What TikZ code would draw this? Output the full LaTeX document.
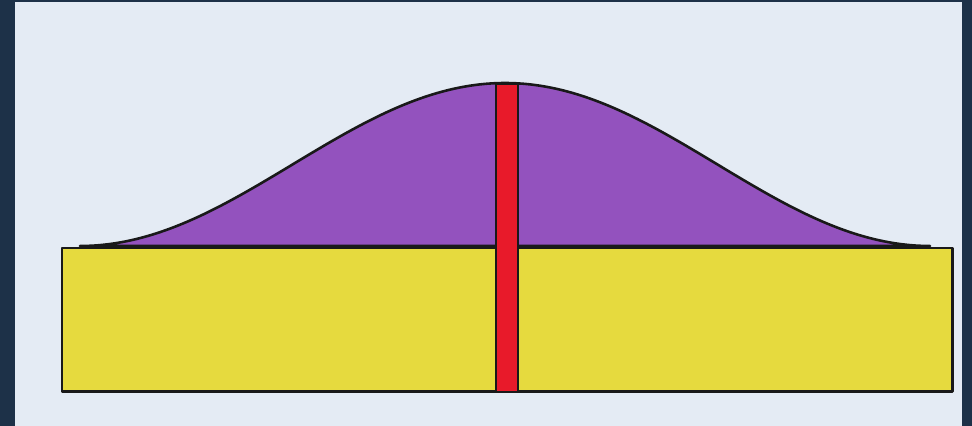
\documentclass[tikz,border=0pt]{standalone}
\definecolor{frame}{HTML}{1D3148}
\definecolor{panel}{HTML}{E4EBF4}
\definecolor{sand}{HTML}{E6DA3E}
\definecolor{hill}{HTML}{9352BE}
\definecolor{bar}{HTML}{E81A2A}
\tikzset{outline/.style={draw=black!90, line width=2.2pt, line join=round}}
\begin{document}
\begin{tikzpicture}[x=0.03cm,y=-0.03cm]
\fill[frame] (0,0) rectangle (972,426);
\fill[panel] (15,2) rectangle (962,426);
% purple bell
\filldraw[fill=hill, outline] plot[domain=-425:425, samples=120, smooth] ({505+\x},{246-81.5*(1+cos(0.42353*\x))}) -- cycle;
% yellow slab
\node[outline, fill=sand, minimum width=893*0.03cm-2.2pt, minimum height=146*0.03cm-2.2pt, inner sep=0pt, anchor=north west] (slab) at (60.5,246.5) {};
% red bar
\node[draw=black!90, line width=1pt, fill=bar, minimum width=22*0.03cm, minimum height=307*0.03cm, inner sep=0pt, anchor=south] (rod) at (507,392.5) {};
\end{tikzpicture}
\end{document}
